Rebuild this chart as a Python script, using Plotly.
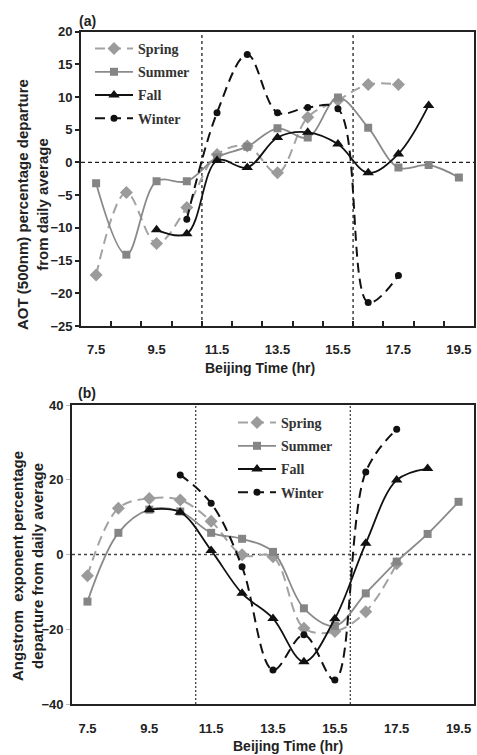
import plotly.graph_objects as go

# ---------------- data ----------------
seasons = ["Spring", "Summer", "Fall", "Winter"]

aot_spring_hours = [7.5, 8.5, 9.5, 10.5, 11.5, 12.5, 13.5, 14.5, 15.5, 16.5, 17.5]
aot_spring = [-17.2, -4.6, -12.4, -6.9, 1.2, 2.5, -1.6, 6.9, 9.5, 11.9, 11.9]
aot_summer_hours = [7.5, 8.5, 9.5, 10.5, 11.5, 12.5, 13.5, 14.5, 15.5, 16.5, 17.5, 18.5, 19.5]
aot_summer = [-3.2, -14.1, -2.9, -2.9, 0.8, 2.4, 5.2, 3.8, 9.9, 5.3, -0.8, -0.4, -2.3]
aot_fall_hours = [9.5, 10.5, 11.5, 12.5, 13.5, 14.5, 15.5, 16.5, 17.5, 18.5]
aot_fall = [-10.3, -10.9, 0.3, -0.8, 3.8, 4.6, 2.8, -1.6, 1.3, 8.7]
aot_winter_hours = [10.5, 11.5, 12.5, 13.5, 14.5, 15.5, 16.5, 17.5]
aot_winter = [-8.7, 7.6, 16.5, 7.6, 8.4, 8.2, -21.4, -17.3]

ang_spring_hours = [7.5, 8.5, 9.5, 10.5, 11.5, 12.5, 13.5, 14.5, 15.5, 16.5, 17.5]
ang_spring = [-5.7, 12.4, 15.0, 14.6, 8.9, -0.1, -0.6, -19.7, -20.6, -15.3, -2.5]
ang_summer_hours = [7.5, 8.5, 9.5, 10.5, 11.5, 12.5, 13.5, 14.5, 15.5, 16.5, 17.5, 18.5, 19.5]
ang_summer = [-12.6, 5.8, 12.0, 11.5, 5.8, 4.2, 0.7, -14.4, -19.1, -10.4, -1.9, 5.5, 14.1]
ang_fall_hours = [9.5, 10.5, 11.5, 12.5, 13.5, 14.5, 15.5, 16.5, 17.5, 18.5]
ang_fall = [12.0, 11.3, 1.1, -10.4, -17.1, -28.7, -17.2, 3.0, 19.9, 23.0]
ang_winter_hours = [10.5, 11.5, 12.5, 13.5, 14.5, 15.5, 16.5, 17.5]
ang_winter = [21.3, 13.7, -3.3, -30.9, -21.5, -33.6, 22.1, 33.5]

x_tick_labels = ["7.5", "9.5", "11.5", "13.5", "15.5", "17.5", "19.5"]
x_tick_vals = [7.5, 9.5, 11.5, 13.5, 15.5, 17.5, 19.5]
x_minor_ticks = [8, 9, 10, 11, 12, 13, 14, 15, 16, 17, 18, 19]
sunrise_sunset = [11, 16]

# ---------------- styles ----------------
W, H = 477, 755
styles = {
    "Spring": dict(line=dict(color="#a3a3a3", width=2, dash="10px,6px"),
                   marker=dict(symbol="diamond", size=10, color="#9b9b9b")),
    "Summer": dict(line=dict(color="#8a8a8a", width=1.8),
                   marker=dict(symbol="square", size=8, color="#858585")),
    "Fall": dict(line=dict(color="#111111", width=1.8),
                 marker=dict(symbol="triangle-up", size=10, color="#111111")),
    "Winter": dict(line=dict(color="#111111", width=2, dash="10px,6px"),
                   marker=dict(symbol="circle", size=7, color="#111111")),
}

top_data = {
    "Spring": (aot_spring_hours, aot_spring),
    "Summer": (aot_summer_hours, aot_summer),
    "Fall": (aot_fall_hours, aot_fall),
    "Winter": (aot_winter_hours, aot_winter),
}
bot_data = {
    "Spring": (ang_spring_hours, ang_spring),
    "Summer": (ang_summer_hours, ang_summer),
    "Fall": (ang_fall_hours, ang_fall),
    "Winter": (ang_winter_hours, ang_winter),
}

fig = go.Figure()
for s in seasons:
    xs, ys = top_data[s]
    fig.add_trace(go.Scatter(x=xs, y=ys, name=s, mode="lines+markers",
                             line=dict(shape="spline", smoothing=1, **styles[s]["line"]),
                             marker=styles[s]["marker"], xaxis="x", yaxis="y",
                             legend="legend", legendgroup="a" + s))
for s in seasons:
    xs, ys = bot_data[s]
    fig.add_trace(go.Scatter(x=xs, y=ys, name=s, mode="lines+markers",
                             line=dict(shape="spline", smoothing=1, **styles[s]["line"]),
                             marker=styles[s]["marker"], xaxis="x2", yaxis="y2",
                             legend="legend2", legendgroup="b" + s))

def px_x(p):
    return p / W

def px_y(p):
    return 1 - p / H

tick_font = dict(family="Liberation Sans", size=13, color="#222222", weight="bold")
title_font = dict(family="Liberation Sans", size=14, color="#222222", weight="bold")
ytitle_font = dict(family="Liberation Sans", size=15, color="#222222", weight="bold")
legend_font = dict(family="Liberation Serif", size=14, color="#333333", weight="bold")

axis_common = dict(showline=True, linecolor="#222222", linewidth=1.8, mirror=True,
                   showgrid=False, zeroline=False, automargin=False)

fig.update_layout(
    template="none",
    width=W, height=H,
    margin=dict(l=0, r=0, t=0, b=0, pad=0, autoexpand=False),
    paper_bgcolor="white", plot_bgcolor="white",
    xaxis=dict(domain=[px_x(81), px_x(474)], range=[7, 20], anchor="y",
               tickvals=x_tick_vals, ticktext=x_tick_labels, ticks="",
               ticklabelstandoff=10, tickfont=tick_font, ticklabeloverflow="allow",
               minor=dict(tickvals=x_minor_ticks, ticks="inside", ticklen=5,
                          tickcolor="#222222", tickwidth=1.5),
               **axis_common),
    yaxis=dict(domain=[px_y(326), px_y(31.5)], range=[-25, 20], anchor="x",
               tickvals=[-25, -20, -15, -10, -5, 0, 5, 10, 15, 20],
               ticks="outside", ticklen=4, tickcolor="#222222", tickwidth=1.5,
               tickfont=tick_font, **axis_common),
    xaxis2=dict(domain=[px_x(72), px_x(474)], range=[7, 20], anchor="y2",
                tickvals=x_tick_vals, ticktext=x_tick_labels, ticks="",
                ticklabelstandoff=11, tickfont=tick_font, ticklabeloverflow="allow",
                **axis_common),
    yaxis2=dict(domain=[px_y(704), px_y(405)], range=[-40, 40], anchor="x2",
                tickvals=[-40, -20, 0, 20, 40], ticks="outside", ticklen=4,
                tickcolor="#bbbbbb", tickwidth=1, tickfont=tick_font, **axis_common),
    legend=dict(x=px_x(90), y=px_y(33), xanchor="left", yanchor="top",
                font=legend_font, bgcolor="rgba(0,0,0,0)", tracegroupgap=2,
                traceorder="grouped", itemwidth=38, borderwidth=0),
    legend2=dict(x=px_x(233), y=px_y(407), xanchor="left", yanchor="top",
                 font=legend_font, bgcolor="rgba(0,0,0,0)", tracegroupgap=2,
                 traceorder="grouped", itemwidth=38, borderwidth=0),
    showlegend=True,
)

# reference lines
for xr, yr, dash_h, dash_v, col in [("x", "y", "4px,3px", "3px,3px", "#222222"),
                                     ("x2", "y2", "3px,3px", "2px,2px", "#444444")]:
    fig.add_shape(type="line", xref=xr + " domain", yref=yr, x0=0, x1=1, y0=0, y1=0,
                  line=dict(color=col, width=1.3, dash=dash_h), layer="below")
    for v in sunrise_sunset:
        fig.add_shape(type="line", xref=xr, yref=yr + " domain", x0=v, x1=v, y0=0, y1=1,
                      line=dict(color=col, width=1.3, dash=dash_v), layer="below")

# titles and panel labels
ann = [
    dict(text="(a)", x=px_x(87), y=px_y(21), xanchor="center", yanchor="middle",
         font=dict(family="Liberation Sans", size=14, color="#222", weight="bold")),
    dict(text="(b)", x=px_x(87), y=px_y(393), xanchor="center", yanchor="middle",
         font=dict(family="Liberation Sans", size=14, color="#222", weight="bold")),
    dict(text="Beijing Time (hr)", x=px_x(260), y=px_y(368), xanchor="center",
         yanchor="middle", font=title_font),
    dict(text="Beijing Time (hr)", x=px_x(288), y=px_y(746), xanchor="center",
         yanchor="middle", font=title_font),
    dict(text="AOT (500nm) percentage departure<br>from daily average", x=px_x(32),
         y=px_y(205), xanchor="center", yanchor="middle", textangle=-90, font=ytitle_font),
    dict(text="Angstrom  exponent percentage<br>departure from daily average", x=px_x(27),
         y=px_y(566), xanchor="center", yanchor="middle", textangle=-90, font=ytitle_font),
]
for a in ann:
    fig.add_annotation(xref="paper", yref="paper", showarrow=False, **a)

fig.write_html("out.html", config={"displayModeBar": False},
               post_script="document.body.style.margin='0';document.body.style.overflow='hidden';")
